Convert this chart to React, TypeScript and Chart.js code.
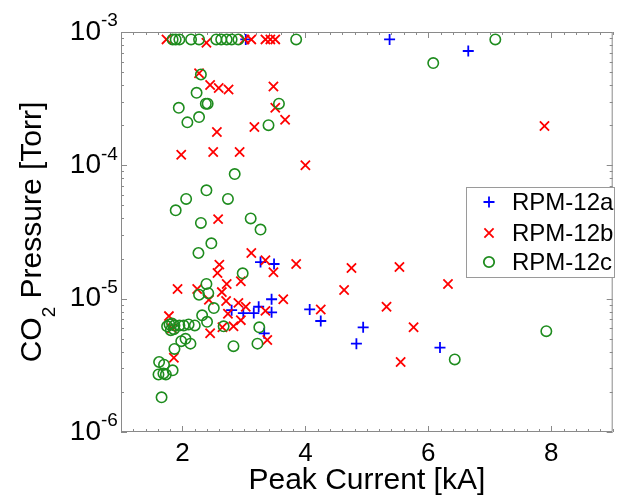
import React, { useEffect, useRef } from 'react';
import { Chart, registerables } from 'chart.js';

Chart.register(...registerables);

const seriesNames = ['RPM-12a', 'RPM-12b', 'RPM-12c'];

const aCurrent = [3.03, 5.37, 6.65, 3.27, 3.49, 3.45, 2.8, 2.99, 3.16, 3.24, 3.45, 4.07, 4.25, 3.33, 4.94, 4.83, 6.19];
const aPressure = [8.8e-4, 8.8e-4, 7.2e-4, 1.88e-5, 1.82e-5, 9.9e-6, 8.2e-6, 7.8e-6, 7.8e-6, 8.7e-6, 7.9e-6, 8.3e-6, 6.8e-6, 5.5e-6, 6.1e-6, 4.6e-6, 4.3e-6];

const bCurrent = [1.74, 2.39, 3.01, 3.12, 3.35, 3.43, 3.51, 2.27, 2.45, 2.59, 2.75, 3.48, 3.51, 3.67, 3.17, 2.56, 1.98, 2.5, 2.93, 4.0, 7.89, 2.58, 3.12, 3.35, 3.85, 2.6, 2.57, 3.48, 2.72, 2.95, 1.92, 2.24, 2.64, 2.43, 3.64, 2.71, 2.91, 3.03, 2.74, 3.35, 4.25, 1.78, 2.95, 2.65, 2.83, 3.38, 2.45, 1.86, 1.83, 4.75, 5.53, 6.32, 4.63, 5.32, 5.76, 5.55];
const bPressure = [8.8e-4, 8.3e-4, 8.8e-4, 8.8e-4, 8.8e-4, 8.8e-4, 8.8e-4, 4.9e-4, 4.0e-4, 3.8e-4, 3.7e-4, 3.9e-4, 2.7e-4, 2.2e-4, 1.94e-4, 1.78e-4, 1.2e-4, 1.26e-4, 1.26e-4, 1.0e-4, 1.97e-4, 3.95e-5, 2.2e-5, 1.94e-5, 1.82e-5, 1.8e-5, 1.56e-5, 1.58e-5, 1.29e-5, 1.35e-5, 1.18e-5, 1.18e-5, 1.12e-5, 9.8e-6, 9.9e-6, 9.6e-6, 9.3e-6, 8.7e-6, 7.7e-6, 8.1e-6, 8.3e-6, 7.4e-6, 6.9e-6, 6.1e-6, 6.2e-6, 4.9e-6, 5.5e-6, 3.6e-6, 6.0e-6, 1.7e-5, 1.73e-5, 1.29e-5, 1.16e-5, 8.7e-6, 6.1e-6, 3.35e-6];

const cCurrent = [1.84, 1.89, 1.95, 2.14, 2.27, 2.55, 2.63, 2.72, 2.8, 2.91, 3.85, 6.08, 7.09, 2.3, 2.23, 2.38, 2.41, 1.94, 3.57, 2.08, 2.27, 3.4, 2.85, 2.39, 2.06, 2.74, 1.89, 2.3, 3.11, 3.27, 2.47, 2.26, 2.98, 2.39, 2.42, 2.27, 2.51, 2.32, 2.4, 2.67, 3.25, 3.22, 2.83, 1.75, 1.79, 1.83, 1.87, 1.81, 1.86, 1.95, 2.02, 2.1, 2.2, 1.98, 2.05, 2.13, 1.87, 1.62, 1.7, 1.61, 1.69, 1.73, 1.84, 1.66, 6.43, 7.92];
const cPressure = [8.8e-4, 8.8e-4, 8.8e-4, 8.8e-4, 8.8e-4, 8.8e-4, 8.8e-4, 8.8e-4, 8.8e-4, 8.8e-4, 8.8e-4, 5.85e-4, 8.8e-4, 4.8e-4, 3.5e-4, 2.9e-4, 2.9e-4, 2.7e-4, 2.9e-4, 2.1e-4, 2.3e-4, 2.0e-4, 8.6e-5, 6.5e-5, 5.6e-5, 5.6e-5, 4.6e-5, 3.7e-5, 4.0e-5, 3.3e-5, 2.6e-5, 2.2e-5, 1.55e-5, 1.29e-5, 1.1e-5, 1.07e-5, 8.5e-6, 7.5e-6, 6.7e-6, 6.2e-6, 6.1e-6, 4.6e-6, 4.4e-6, 6.2e-6, 6.4e-6, 6.5e-6, 6.3e-6, 5.8e-6, 5.9e-6, 6.3e-6, 6.3e-6, 6.4e-6, 6.3e-6, 4.8e-6, 5.0e-6, 4.6e-6, 4.2e-6, 3.35e-6, 3.2e-6, 2.7e-6, 2.75e-6, 2.7e-6, 2.9e-6, 1.82e-6, 3.5e-6, 5.7e-6];

const xTicks = [2, 4, 6, 8];
const yTickExponents = [-6, -5, -4, -3];
const xTitle = 'Peak Current [kA]';
const yTitleMain = 'CO';
const yTitleSub = '2';
const yTitleRest = ' Pressure [Torr]';

const FONT = '"Liberation Sans", Arial, Helvetica, sans-serif';
const BLUE = '#0000ff';
const RED = '#ff0000';
const GREEN = '#1e8c1e';
const AXIS = '#8a8a8a';

const toPoints = (xs: number[], ys: number[]) => xs.map((x, i) => ({ x, y: ys[i] }));

function drawMarker(ctx: CanvasRenderingContext2D, kind: string, x: number, y: number, color: string) {
  ctx.save();
  ctx.strokeStyle = color;
  ctx.lineWidth = 1.8;
  ctx.beginPath();
  if (kind === 'cross') {
    ctx.moveTo(x - 5.5, y); ctx.lineTo(x + 5.5, y);
    ctx.moveTo(x, y - 5.5); ctx.lineTo(x, y + 5.5);
  } else if (kind === 'crossRot') {
    const d = 4.6;
    ctx.moveTo(x - d, y - d); ctx.lineTo(x + d, y + d);
    ctx.moveTo(x + d, y - d); ctx.lineTo(x - d, y + d);
  } else {
    ctx.arc(x, y, 5.2, 0, Math.PI * 2);
  }
  ctx.stroke();
  ctx.restore();
}

const decorPlugin = {
  id: 'matlabDecor',
  beforeDatasetsDraw(chart: any) {
    const ctx: CanvasRenderingContext2D = chart.ctx;
    const { left, right, top, bottom } = chart.chartArea;
    const xs = chart.scales.x;
    const ys = chart.scales.y;
    ctx.save();
    ctx.strokeStyle = AXIS;
    ctx.lineWidth = 1;
    ctx.beginPath();
    ctx.rect(left + 0.5, top + 0.5, right - left - 1, bottom - top - 1);
    for (let i = 0; i <= 40; i++) {
      const v = xs.min + i * 0.2;
      if (v > xs.max + 1e-9) break;
      const major = xTicks.some((t) => Math.abs(t - v) < 1e-6);
      const len = major ? 6 : 3;
      const px = Math.round(xs.getPixelForValue(v)) + 0.5;
      ctx.moveTo(px, bottom); ctx.lineTo(px, bottom - len);
      ctx.moveTo(px, top); ctx.lineTo(px, top + len);
    }
    for (let e = yTickExponents[0]; e <= yTickExponents[yTickExponents.length - 1]; e++) {
      for (let m = 1; m <= 9; m++) {
        const v = m * Math.pow(10, e);
        if (v > ys.max * 1.0001) break;
        const len = m === 1 ? 6 : 3;
        const py = Math.round(ys.getPixelForValue(v)) + 0.5;
        ctx.moveTo(left, py); ctx.lineTo(left + len, py);
        ctx.moveTo(right, py); ctx.lineTo(right - len, py);
      }
    }
    ctx.stroke();
    ctx.restore();
  },
  afterDraw(chart: any) {
    const ctx: CanvasRenderingContext2D = chart.ctx;
    const ys = chart.scales.y;
    const { top, bottom } = chart.chartArea;
    ctx.save();
    ctx.fillStyle = '#000';
    yTickExponents.forEach((e) => {
      const py = ys.getPixelForValue(Math.pow(10, e));
      ctx.font = `28px ${FONT}`;
      ctx.textAlign = 'right';
      ctx.textBaseline = 'middle';
      ctx.fillText('10', 101, py);
      ctx.font = `19px ${FONT}`;
      ctx.textAlign = 'left';
      ctx.fillText(String(e), 101, py - 11);
    });
    const cy = (top + bottom) / 2;
    ctx.translate(0, cy);
    ctx.rotate(-Math.PI / 2);
    ctx.textAlign = 'left';
    ctx.textBaseline = 'alphabetic';
    ctx.font = `30px ${FONT}`;
    const w1 = ctx.measureText(yTitleMain).width;
    const w3 = ctx.measureText(yTitleRest).width;
    ctx.font = `19px ${FONT}`;
    const w2 = ctx.measureText(yTitleSub).width;
    const total = w1 + w2 + w3;
    let sx = -total / 2;
    ctx.font = `30px ${FONT}`;
    ctx.fillText(yTitleMain, sx, 41);
    sx += w1;
    ctx.font = `19px ${FONT}`;
    ctx.fillText(yTitleSub, sx, 55);
    sx += w2;
    ctx.font = `30px ${FONT}`;
    ctx.fillText(yTitleRest, sx, 41);
    ctx.restore();

    ctx.save();
    ctx.fillStyle = '#ffffff';
    ctx.strokeStyle = '#9a9a9a';
    ctx.lineWidth = 1;
    ctx.fillRect(466, 187, 149, 91);
    ctx.strokeRect(466.5, 187.5, 148, 90);
    const kinds = ['cross', 'crossRot', 'circle'];
    const colors = [BLUE, RED, GREEN];
    const rows = [202, 233, 262];
    seriesNames.forEach((name, i) => {
      drawMarker(ctx, kinds[i], 489, rows[i], colors[i]);
      ctx.fillStyle = '#000';
      ctx.font = `24px ${FONT}`;
      ctx.textAlign = 'left';
      ctx.textBaseline = 'middle';
      ctx.fillText(name, 512, rows[i] + 1);
    });
    ctx.restore();
  },
};

export default function App() {
  const canvasRef = useRef<HTMLCanvasElement | null>(null);

  useEffect(() => {
    const canvas = canvasRef.current;
    if (!canvas) return;
    const chart = new Chart(canvas, {
      type: 'scatter',
      data: {
        datasets: [
          {
            label: seriesNames[0],
            data: toPoints(aCurrent, aPressure),
            pointStyle: 'cross',
            pointRadius: 5.5,
            pointHoverRadius: 5.5,
            borderColor: BLUE,
            backgroundColor: BLUE,
            pointBorderWidth: 1.8,
            order: 3,
          },
          {
            label: seriesNames[1],
            data: toPoints(bCurrent, bPressure),
            pointStyle: 'crossRot',
            pointRadius: 6.5,
            pointHoverRadius: 6.5,
            borderColor: RED,
            backgroundColor: RED,
            pointBorderWidth: 1.8,
            order: 2,
          },
          {
            label: seriesNames[2],
            data: toPoints(cCurrent, cPressure),
            pointStyle: 'circle',
            pointRadius: 5.2,
            pointHoverRadius: 5.2,
            borderColor: GREEN,
            backgroundColor: 'rgba(0,0,0,0)',
            pointBorderWidth: 1.6,
            order: 1,
          },
        ],
      },
      options: {
        animation: false,
        responsive: false,
        maintainAspectRatio: false,
        layout: { padding: { left: 0, right: 3, top: 32, bottom: 0 } },
        plugins: { legend: { display: false }, tooltip: { enabled: false } },
        scales: {
          x: {
            type: 'linear',
            min: 1,
            max: 9,
            afterFit: (s: any) => { s.height = 67; },
            afterBuildTicks: (s: any) => { s.ticks = xTicks.map((v) => ({ value: v })); },
            grid: { display: false, drawTicks: false },
            border: { display: false },
            ticks: {
              font: { family: FONT, size: 26 },
              color: '#000',
              padding: 6,
              maxRotation: 0,
              autoSkip: false,
            },
            title: {
              display: true,
              text: xTitle,
              font: { family: FONT, size: 30 },
              color: '#000',
              padding: { top: 0, bottom: 0 },
            },
          },
          y: {
            type: 'logarithmic',
            min: 1e-6,
            max: 1e-3,
            afterFit: (s: any) => { s.width = 121; },
            grid: { display: false, drawTicks: false },
            border: { display: false },
            ticks: { display: false },
          },
        },
      },
      plugins: [decorPlugin],
    });
    return () => chart.destroy();
  }, []);

  return (
    <div style={{ position: 'absolute', left: 0, top: 0, width: 621, height: 499, background: '#fff' }}>
      <canvas ref={canvasRef} width={621} height={499} style={{ display: 'block' }} />
    </div>
  );
}
